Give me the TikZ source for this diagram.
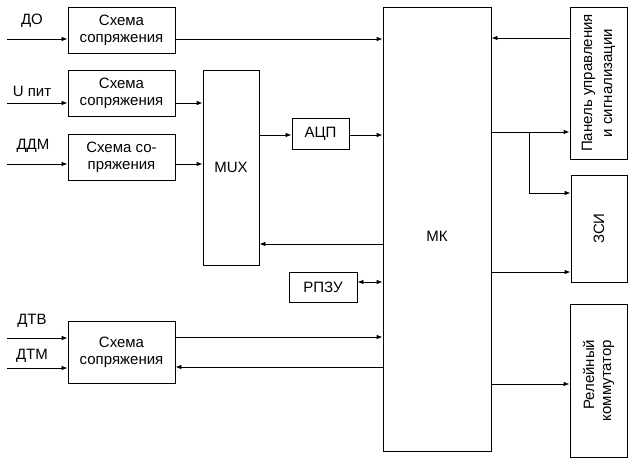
\documentclass[tikz,border=0pt]{standalone}
\usepackage{fontspec}
\setmainfont{Liberation Sans}
\usetikzlibrary{arrows.meta}

\begin{document}
\begin{tikzpicture}[x=1pt,y=-1pt]
			\tikzstyle{block}=[rectangle, draw, line width=0.8pt, inner sep=1pt, align=center, font=\fontsize{15}{17}\selectfont]
			\tikzstyle{sigtext}=[font=\fontsize{15}{17}\selectfont, inner sep=0pt]
			\tikzstyle{link}=[line width=0.8pt, -{Latex[length=6pt,width=4.5pt]}]
			\tikzstyle{duplex}=[line width=0.8pt, {Latex[length=6pt,width=4.5pt]}-{Latex[length=6pt,width=4.5pt]}]

			\useasboundingbox (0,0) rectangle (634,463);

			\node [block, minimum width=107pt, minimum height=46pt] (ssDO) at (121.5,30) {Схема\\сопряжения};
			\node [block, minimum width=107pt, minimum height=46pt] (ssU) at (121.5,93) {Схема\\сопряжения};
			\node [block, minimum width=107pt, minimum height=46pt] (ssDDM) at (121.5,157) {Схема со-\\пряжения};
			\node [block, minimum width=107pt, minimum height=62pt] (ssT) at (121.5,352) {Схема\\сопряжения};
			\node [block, minimum width=56pt, minimum height=195pt] (mux) at (231,167.5) {MUX};
			\node [block, minimum width=57pt, minimum height=31pt] (adc) at (320.5,133.5) {АЦП};
			\node [block, minimum width=68pt, minimum height=30pt] (rpzu) at (323,287) {РПЗУ};
			\node [block, minimum width=108pt, minimum height=444pt] (mk) at (437,229) {};
			\node [sigtext] (mkText) at (437,236) {МК};
			\node [block, rotate=90, minimum width=152pt, minimum height=57pt] (panel) at (598.5,83) {Панель управления\\[3pt]и сигнализации};
			\node [block, rotate=90, minimum width=107pt, minimum height=56pt] (zsi) at (599,228.5) {ЗСИ};
			\node [block, rotate=90, minimum width=153pt, minimum height=57pt, align=right] (relay) at (598.5,380.5) {Релейный\\коммутатор};

			\node [sigtext] (tDO) at (32,21) {ДО};
			\node [sigtext] (tU) at (32,91) {U пит};
			\node [sigtext] (tDDM) at (33,146) {ДДМ};
			\node [sigtext] (tDTV) at (32,321) {ДТВ};
			\node [sigtext] (tDTM) at (32,356) {ДТМ};

			\coordinate (inDO) at (7,39);
			\coordinate (inU) at (7,103);
			\coordinate (inDDM) at (7,164);
			\coordinate (inDTV) at (7,338);
			\coordinate (inDTM) at (7,368);
			\coordinate (br) at (529,132);

			\draw [link] (inDO) -- (ssDO.west |- inDO);
			\draw [link] (ssDO.east |- inDO) -- (mk.west |- inDO);
			\draw [link] (inU) -- (ssU.west |- inU);
			\draw [link] (ssU.east |- inU) -- (mux.west |- inU);
			\draw [link] (inDDM) -- (ssDDM.west |- inDDM);
			\draw [link] (ssDDM.east |- inDDM) -- (mux.west |- inDDM);
			\draw [link] (mux.east |- 0,135) -- (adc.west |- 0,135);
			\draw [link] (adc.east |- 0,135) -- (mk.west |- 0,135);
			\draw [link] (mk.west |- 0,244) -- (mux.east |- 0,244);
			\draw [duplex] (rpzu.east |- 0,282) -- (mk.west |- 0,282);
			\draw [link] (inDTV) -- (ssT.west |- inDTV);
			\draw [link] (inDTM) -- (ssT.west |- inDTM);
			\draw [link] (ssT.east |- 0,337) -- (mk.west |- 0,337);
			\draw [link] (mk.west |- 0,367) -- (ssT.east |- 0,367);
			\draw [link] (panel.north |- 0,38) -- (mk.east |- 0,38);
			\draw [link] (mk.east |- br) -- (panel.north |- br);
			\draw [link] (br) -- (br |- 0,193) -- (zsi.north |- 0,193);
			\draw [link] (mk.east |- 0,272) -- (zsi.north |- 0,272);
			\draw [link] (mk.east |- 0,384) -- (relay.north |- 0,384);
		\end{tikzpicture}
\end{document}
